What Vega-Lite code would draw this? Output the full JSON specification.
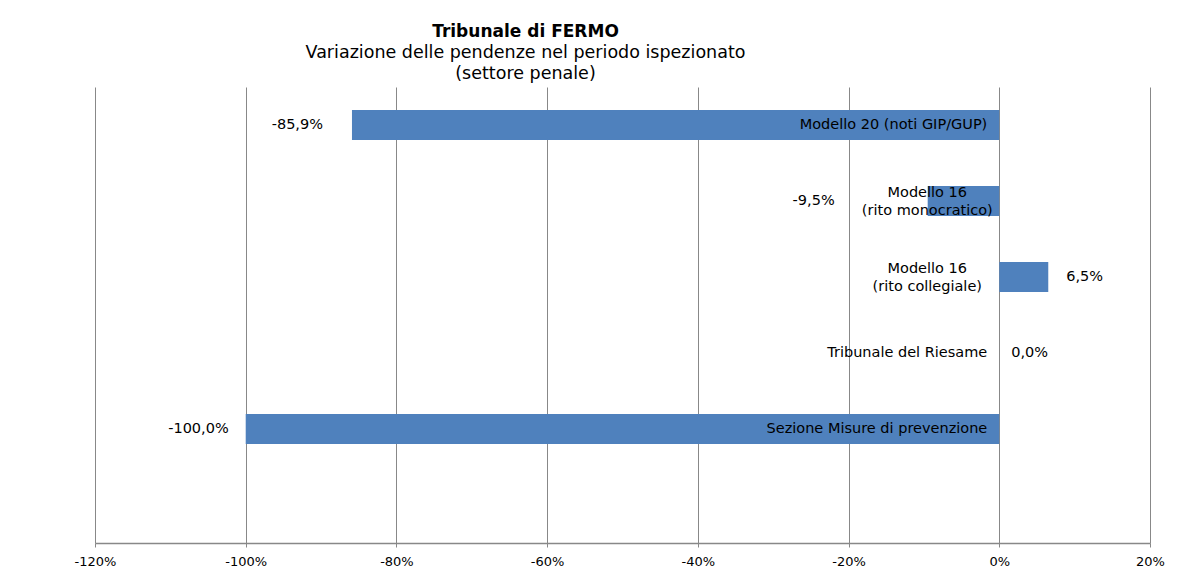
{
  "$schema": "https://vega.github.io/schema/vega-lite/v6.json",
  "width": 1055,
  "height": 456,
  "autosize": "none",
  "padding": {"left": 95, "top": 87, "right": 53, "bottom": 29},
  "background": "white",
  "config": {
    "view": {"stroke": null},
    "font": "DejaVu Sans",
    "locale": {"number": {"decimal": ",", "thousands": ".", "grouping": [3], "currency": ["€", ""], "minus": "-"}}
  },
  "title": {
    "text": "Tribunale di FERMO",
    "subtitle": ["Variazione delle pendenze nel periodo ispezionato", "(settore penale)"],
    "anchor": "middle",
    "dx": -97,
    "font": "DejaVu Sans",
    "fontSize": 17,
    "fontWeight": "bold",
    "color": "#000000",
    "subtitleFont": "DejaVu Sans",
    "subtitleFontSize": 17.5,
    "subtitleColor": "#000000",
    "subtitleLineHeight": 21,
    "subtitlePadding": 3,
    "offset": 4
  },
  "data": {
    "values": [
      {"cat": "Modello 20 (noti GIP/GUP)", "value": -0.859},
      {"cat": "Modello 16\n(rito monocratico)", "value": -0.095},
      {"cat": "Modello 16\n(rito collegiale)", "value": 0.065},
      {"cat": "Tribunale del Riesame", "value": 0.0},
      {"cat": "Sezione Misure di prevenzione", "value": -1.0}
    ]
  },
  "encoding": {
    "y": {
      "field": "cat",
      "type": "nominal",
      "scale": {
        "domain": ["Modello 20 (noti GIP/GUP)", "Modello 16\n(rito monocratico)", "Modello 16\n(rito collegiale)", "Tribunale del Riesame", "Sezione Misure di prevenzione", " "],
        "paddingInner": 0.605,
        "paddingOuter": 0.3025
      },
      "axis": null
    }
  },
  "layer": [
    {
      "mark": {"type": "bar", "color": "#4F81BD"},
      "encoding": {
        "x": {
          "field": "value",
          "type": "quantitative",
          "scale": {"domain": [-1.2, 0.2], "nice": false},
          "axis": {
            "values": [-1.2, -1.0, -0.8, -0.6, -0.4, -0.2, 0, 0.2],
            "format": ".0%",
            "title": null,
            "grid": true,
            "gridColor": "#888888",
            "domainColor": "#888888",
            "domainWidth": 1.5,
            "tickColor": "#888888",
            "tickSize": 4,
            "labelFlush": false,
            "labelFont": "DejaVu Sans",
            "labelFontSize": 13,
            "labelColor": "#000000",
            "labelPadding": 8
          }
        }
      }
    },
    {
      "transform": [{"filter": {"field": "cat", "oneOf": ["Modello 20 (noti GIP/GUP)", "Tribunale del Riesame", "Sezione Misure di prevenzione"]}}],
      "mark": {"type": "text", "align": "right", "baseline": "middle", "dx": -12, "fontSize": 14.5, "font": "DejaVu Sans", "color": "#000000"},
      "encoding": {
        "x": {"datum": 0, "type": "quantitative"},
        "text": {"field": "cat"}
      }
    },
    {
      "transform": [{"filter": {"field": "cat", "oneOf": ["Modello 16\n(rito monocratico)", "Modello 16\n(rito collegiale)"]}}],
      "mark": {"type": "text", "align": "center", "baseline": "middle", "dx": -72, "dy": -8, "fontSize": 14.5, "font": "DejaVu Sans", "color": "#000000", "lineBreak": "\n", "lineHeight": 18},
      "encoding": {
        "x": {"datum": 0, "type": "quantitative"},
        "text": {"field": "cat"}
      }
    },
    {
      "transform": [{"filter": "datum.value < 0"}],
      "mark": {"type": "text", "align": "right", "baseline": "middle", "dx": {"expr": "datum.value > -0.2 ? -93 : (datum.value < -0.95 ? -17 : -29)"}, "fontSize": 14.5, "font": "DejaVu Sans", "color": "#000000"},
      "encoding": {
        "x": {"field": "value", "type": "quantitative"},
        "text": {"field": "value", "type": "quantitative", "format": ".1%"}
      }
    },
    {
      "transform": [{"filter": "datum.value >= 0"}],
      "mark": {"type": "text", "align": "left", "baseline": "middle", "dx": {"expr": "datum.value > 0 ? 18 : 12"}, "fontSize": 14.5, "font": "DejaVu Sans", "color": "#000000"},
      "encoding": {
        "x": {"field": "value", "type": "quantitative"},
        "text": {"field": "value", "type": "quantitative", "format": ".1%"}
      }
    }
  ]
}
